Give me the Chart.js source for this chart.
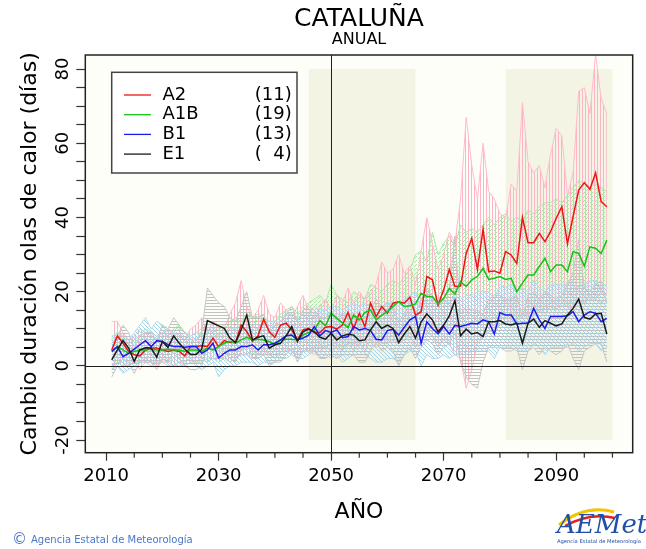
<!DOCTYPE html>
<html><head><meta charset="utf-8">
<script src="https://cdn.jsdelivr.net/npm/chart.js@4.4.0/dist/chart.umd.min.js"></script>
<style>html,body{margin:0;padding:0;background:#fff;}canvas{display:block;}</style>
</head><body>
<canvas id="c" width="646" height="549"></canvas>
<script>
// ---------------- DATA ----------------
const years = [2011,2012,2013,2014,2015,2016,2017,2018,2019,2020,
2021,2022,2023,2024,2025,2026,2027,2028,2029,2030,
2031,2032,2033,2034,2035,2036,2037,2038,2039,2040,
2041,2042,2043,2044,2045,2046,2047,2048,2049,2050,
2051,2052,2053,2054,2055,2056,2057,2058,2059,2060,
2061,2062,2063,2064,2065,2066,2067,2068,2069,2070,
2071,2072,2073,2074,2075,2076,2077,2078,2079,2080,
2081,2082,2083,2084,2085,2086,2087,2088,2089,2090,
2091,2092,2093,2094,2095,2096,2097,2098,2099];

const a2Mean = [4.3,8.1,6.1,3.9,3.0,2.7,4.3,4.8,4.8,4.3,
3.9,4.3,3.9,2.7,5.2,5.2,5.4,5.2,7.5,5.2,
6.8,6.3,6.3,11.0,9.2,6.6,8.1,12.6,9.2,7.7,
11.0,11.5,9.7,7.0,9.7,10.1,9.0,9.0,10.4,10.6,
9.9,11.0,14.4,10.1,14.2,10.6,16.9,13.3,16.0,14.2,
16.9,17.3,16.9,18.5,13.7,14.6,24.1,23.2,16.4,20.5,
26.0,21.4,21.5,30.3,34.4,26.0,36.8,25.4,25.6,25.0,
30.8,29.9,27.6,40.0,33.2,33.2,35.7,33.5,36.2,39.8,
42.9,32.9,40.2,47.4,49.4,47.6,52.0,44.3,42.9];

const a1bMean = [3.9,5.2,4.3,3.4,3.9,4.3,4.3,4.5,4.3,4.3,
4.5,4.3,4.3,3.9,4.3,4.3,3.9,4.8,4.3,5.2,
6.1,6.6,6.1,7.0,7.7,7.0,7.2,7.0,6.6,5.7,
7.0,7.2,7.2,7.0,8.3,9.0,9.7,12.2,10.8,14.2,
12.8,11.6,10.3,13.7,12.4,14.4,15.1,12.4,13.7,14.6,
16.0,17.3,16.0,16.2,16.7,19.6,18.7,18.7,16.7,18.2,
20.9,19.4,22.7,21.4,23.2,24.1,26.3,23.3,23.6,24.1,
23.3,23.6,20.0,22.3,24.5,24.5,26.8,29.0,25.4,27.2,
27.2,25.4,30.8,30.3,26.9,32.1,31.7,30.3,33.9];

const b1Mean = [3.9,5.2,2.5,3.4,4.5,5.7,6.8,5.2,6.8,6.6,
5.7,5.2,5.2,5.0,5.2,5.2,3.4,4.3,6.1,2.1,
3.4,4.3,4.3,5.2,5.2,5.7,4.3,5.7,5.7,6.1,
7.0,8.1,8.3,7.0,7.5,8.3,10.6,8.1,9.5,9.0,
9.7,7.6,7.9,10.6,9.7,10.1,9.5,7.2,7.0,9.5,
9.9,8.3,10.4,12.4,13.3,6.1,11.9,10.1,8.6,10.6,
8.6,10.9,10.6,11.0,11.5,11.3,12.4,11.9,8.6,14.4,
13.7,13.7,11.3,11.5,11.5,15.5,12.4,10.1,13.3,13.3,
13.3,13.5,14.6,11.9,13.7,14.6,14.2,11.9,12.8];

const e1Mean = [1.6,4.3,6.8,4.8,1.2,4.3,4.9,4.8,2.3,6.6,
5.0,8.1,6.1,4.5,3.1,3.1,4.5,12.2,11.5,10.8,
10.1,7.5,6.3,9.7,13.7,7.0,7.7,8.1,4.8,5.7,
6.1,8.1,10.6,6.6,9.2,9.9,9.2,7.7,7.2,8.8,
7.0,8.1,8.5,8.3,6.8,7.0,9.7,11.9,10.1,11.0,
10.1,6.3,8.6,10.6,7.5,11.9,14.0,12.4,9.2,11.0,
13.5,17.6,8.1,9.9,8.6,9.0,7.9,11.9,11.9,12.2,
11.3,11.0,11.5,6.1,11.5,12.6,10.4,12.2,11.5,10.8,
11.3,13.7,15.5,18.0,13.1,12.6,14.0,14.2,8.6];

// model spread (max / min) for each scenario
const a2Max = [12,12,9,7,8,10,9,8,7,9,
10,8,9,7,10,11,13,9,12,11,
10,14,17,23,16,13,15,19,14,13,
17,15,13,16,19,15,13,16,18,15,
19,17,21,17,20,18,20,22,28,25,
26,30,25,27,22,31,40,33,26,30,
36,33,45,67,54,45,60,47,45,41,
40,49,47,71,55,52,54,48,57,64,
62,46,52,74,75,68,84,72,68];
const a2Min = [-1,1,0,0,1,-1,1,1,0,1,
1,0,1,0,1,1,2,1,2,1,
2,1,2,3,3,2,3,4,3,2,
4,4,3,2,4,4,3,4,5,4,
5,4,6,4,6,4,7,5,6,6,
7,6,7,8,5,6,9,8,5,7,
6,3,2,-6,-1,6,8,9,10,11,
12,11,12,14,13,14,15,14,16,15,
17,16,15,18,17,19,18,20,19];

const a1bMax = [7,9,8,6,7,8,10,9,8,9,
8,10,11,9,8,9,10,10,9,10,
11,12,13,12,14,13,14,13,12,12,
14,15,16,14,16,17,18,19,17,22,
19,18,17,20,19,18,22,21,20,22,
23,22,24,26,30,31,28,36,30,33,
35,32,38,36,37,36,38,40,38,40,
41,39,40,39,42,41,43,44,44,45,
44,46,48,50,49,48,49,48,47];
const a1bMin = [0,1,1,0,1,1,2,1,1,2,
1,2,1,1,2,1,1,2,2,2,
2,3,3,3,3,4,3,3,3,2,
3,4,4,3,4,4,5,5,5,6,
6,5,6,6,7,7,7,6,7,8,
8,9,8,9,9,10,10,10,9,10,
11,11,12,11,12,12,13,12,13,13,
13,14,13,14,14,15,15,16,15,16,
16,17,17,16,17,18,18,17,18];

const b1Max = [8,9,8,7,9,11,13,10,12,11,
10,9,10,9,8,9,8,9,11,8,
9,10,10,11,10,11,10,12,12,12,
13,14,14,13,14,14,16,15,15,16,
16,15,16,17,16,17,16,15,15,17,
17,16,18,19,20,15,19,18,17,18,
17,19,18,19,19,20,20,20,18,22,
21,22,20,21,20,23,21,20,22,22,
22,22,23,21,22,23,23,21,22];
const b1Min = [-1,0,-2,-1,0,1,1,0,1,1,
0,0,0,0,1,0,-1,0,1,-3,
-1,0,0,1,1,1,0,1,1,1,
2,2,3,2,2,3,4,2,3,2,
3,1,2,3,3,3,2,1,1,2,
2,1,3,4,4,0,3,2,2,3,
2,3,3,3,4,4,4,4,2,5,
5,5,4,4,4,6,5,3,5,5,
5,5,6,4,5,6,6,4,5];

const e1Max = [6,8,11,9,5,8,9,9,7,11,
10,13,11,9,7,7,9,21,19,17,
16,13,12,16,20,13,13,14,10,11,
12,14,16,12,15,16,15,13,13,15,
13,14,14,14,12,13,15,18,16,17,
16,12,14,17,14,18,21,19,16,18,
21,35,14,16,15,15,14,18,19,19,
18,18,19,13,19,20,18,20,19,18,
19,22,25,34,21,20,22,23,17];
const e1Min = [-3,0,2,1,-2,1,1,1,-1,2,
1,4,2,0,-1,-1,0,5,4,4,
4,2,1,4,7,2,2,3,0,1,
1,3,5,1,4,4,4,2,2,3,
2,3,3,3,1,1,4,6,4,5,
4,0,3,5,2,5,7,6,3,5,
6,9,1,-3,-5,-6,1,5,5,5,
4,4,5,-1,4,5,3,5,4,3,
4,6,2,-1,4,5,6,6,1];

const scenarios = ['A2','A1B','B1','E1'];
const modelCounts = [11,19,13,4];
const xTicks = [2010,2015,2020,2025,2030,2035,2040,2045,2050,2055,2060,2065,2070,2075,2080,2085,2090,2095,2100];
const xLabelYears = [2010,2030,2050,2070,2090];
const yTicks = [-20,-15,-10,-5,0,5,10,15,20,25,30,35,40,45,50,55,60,65,70,75,80];
const yLabelValues = [-20,0,20,40,60,80];
const bandStart = [2046,2081];
const bandEnd = [2065,2100];
const bandLow = -20, bandHigh = 80;
const refYear = 2050;

// ---------------- STYLE ----------------
const FONT = 'DejaVu Sans';
const meanColors = ['#F01414','#14C414','#1C1CF0','#1A1A1A'];

function pat(w,h,color,pts){
  const c=document.createElement('canvas'); c.width=w; c.height=h;
  const g=c.getContext('2d'); g.fillStyle=color;
  pts.forEach(p=>g.fillRect(p[0],p[1],p[2]||1,p[3]||1));
  return g.createPattern(c,'repeat');
}
const pinkPat  = pat(3,3,'#FFB3C6',[[0,0,1,3]]);
const greenPat = pat(4,4,'#A4E4A4',[[0,0],[2,2],[3,1]]);
const bluePat  = pat(4,4,'#A6D3E8',[[0,0],[1,1],[2,2],[3,3]]);
const grayPat  = pat(3,3,'#C2C2C2',[[0,0,3,1]]);

const pts = arr => years.map((y,i)=>({x:y,y:arr[i]}));
function meanDs(label,arr,color){
  return {label,data:pts(arr),borderColor:color,borderWidth:1.5,pointRadius:0,fill:false,order:0,tension:0};
}
function envDs(mx,mn,line,pattern,order){
  return [
    {label:'max',data:pts(mx),borderColor:line,borderWidth:1,pointRadius:0,fill:'+1',backgroundColor:pattern,order,tension:0},
    {label:'min',data:pts(mn),borderColor:line,borderWidth:1,pointRadius:0,fill:false,order,tension:0}
  ];
}

const datasets = [
  meanDs('E1',e1Mean,meanColors[3]),
  meanDs('B1',b1Mean,meanColors[2]),
  meanDs('A1B',a1bMean,meanColors[1]),
  meanDs('A2',a2Mean,meanColors[0]),
  ...envDs(e1Max,e1Min,'#C8C8C8',grayPat,1),
  ...envDs(b1Max,b1Min,'#B4DCEC',bluePat,2),
  ...envDs(a2Max,a2Min,'#FFBCCB',pinkPat,3),
  ...envDs(a1bMax,a1bMin,'#AEE6AE',greenPat,4)
];

const decor = {
  id:'decor',
  beforeDraw(chart){
    const {ctx,chartArea:a}=chart;
    ctx.save();
    ctx.fillStyle='#FFFFFF'; ctx.fillRect(0,0,chart.width,chart.height);
    ctx.fillStyle='#FEFEF9'; ctx.fillRect(a.left,a.top,a.right-a.left,a.bottom-a.top);
    ctx.restore();
  },
  beforeDatasetsDraw(chart){
    const {ctx,scales:{x,y}}=chart;
    ctx.save();
    ctx.fillStyle='#F4F4E5';
    for(let i=0;i<bandStart.length;i++){
      const x0=x.getPixelForValue(bandStart[i]), x1=x.getPixelForValue(bandEnd[i]);
      const y0=y.getPixelForValue(bandHigh), y1=y.getPixelForValue(bandLow);
      ctx.fillRect(x0,y0,x1-x0,y1-y0);
    }
    ctx.restore();
  },
  afterDatasetsDraw(chart){
    const {ctx,chartArea:a,scales:{x,y}}=chart;
    ctx.save();
    ctx.strokeStyle='#202020'; ctx.lineWidth=1;
    const y0=Math.round(y.getPixelForValue(0))+0.5;
    ctx.beginPath(); ctx.moveTo(a.left,y0); ctx.lineTo(a.right,y0); ctx.stroke();
    const xr=Math.round(x.getPixelForValue(refYear))+0.5;
    ctx.beginPath(); ctx.moveTo(xr,a.top); ctx.lineTo(xr,a.bottom); ctx.stroke();
    ctx.strokeStyle='#222'; ctx.lineWidth=1.5;
    ctx.strokeRect(a.left,a.top,a.right-a.left,a.bottom-a.top);
    ctx.restore();
  },
  afterDraw(chart){
    const {ctx,chartArea:a,scales:{x,y}}=chart;
    ctx.save();
    // minor x ticks
    ctx.strokeStyle='#333'; ctx.lineWidth=1.2;
    xTicks.forEach(v=>{
      if(xLabelYears.includes(v)) return;
      const px=x.getPixelForValue(v);
      ctx.beginPath(); ctx.moveTo(px,a.bottom); ctx.lineTo(px,a.bottom+5); ctx.stroke();
    });
    // y tick labels (rotated)
    ctx.fillStyle='#000'; ctx.font='18px "'+FONT+'"';
    ctx.textAlign='center'; ctx.textBaseline='middle';
    yLabelValues.forEach(v=>{
      const py=y.getPixelForValue(v);
      ctx.save(); ctx.translate(63,py); ctx.rotate(-Math.PI/2);
      ctx.fillText(String(v),0,0); ctx.restore();
    });
    // legend
    const lx0=111.7, ly0=72.3, lx1=297, ly1=173;
    ctx.fillStyle='#FFFFFF'; ctx.fillRect(lx0,ly0,lx1-lx0,ly1-ly0);
    ctx.strokeStyle='#444'; ctx.lineWidth=1.5; ctx.strokeRect(lx0,ly0,lx1-lx0,ly1-ly0);
    ctx.font='18px "'+FONT+'"'; ctx.textBaseline='middle';
    const wFull = ctx.measureText('(11)').width;
    scenarios.forEach((s,i)=>{
      const ly=95+i*19.7;
      ctx.strokeStyle=meanColors[i]; ctx.lineWidth=1.3;
      ctx.beginPath(); ctx.moveTo(124,ly); ctx.lineTo(151,ly); ctx.stroke();
      ctx.fillStyle='#000'; ctx.textAlign='left';
      ctx.fillText(s,162.5,ly);
      ctx.textAlign='right';
      ctx.fillText(String(modelCounts[i])+')',291.7,ly);
      ctx.textAlign='left';
      ctx.fillText('(',291.7-wFull,ly);
    });
    // copyright
    ctx.fillStyle='#4A78C8'; ctx.textAlign='left'; ctx.textBaseline='middle';
    ctx.font='15px "'+FONT+'"'; ctx.fillText('©',12,540);
    ctx.font='10px "'+FONT+'"'; ctx.fillText('Agencia Estatal de Meteorología',31,540);
    // logo
    ctx.strokeStyle='#F2C500'; ctx.lineWidth=3;
    ctx.beginPath(); ctx.moveTo(559,525); ctx.quadraticCurveTo(585,504,614,512); ctx.stroke();
    ctx.strokeStyle='#E0201B'; ctx.lineWidth=2.5;
    ctx.beginPath(); ctx.moveTo(565,526); ctx.quadraticCurveTo(590,512,615,518); ctx.stroke();
    ctx.fillStyle='#1F4FA8'; ctx.font='italic 26px "DejaVu Serif"'; ctx.textBaseline='alphabetic';
    ctx.fillText('AEMet',557,533);
    ctx.font='5.2px "'+FONT+'"'; ctx.fillText('Agencia Estatal de Meteorología',557,543);
    ctx.restore();
  }
};

new Chart(document.getElementById('c'),{
  type:'line',
  data:{datasets},
  options:{
    responsive:false, animation:false, devicePixelRatio:1,
    layout:{padding:{left:0,right:13.3,top:0,bottom:0}},
    plugins:{
      legend:{display:false}, tooltip:{enabled:false},
      title:{display:true,text:'CATALUÑA',color:'#000',font:{family:FONT,size:25,weight:'normal',lineHeight:1.0},padding:{top:7,bottom:0},fullSize:false},
      subtitle:{display:true,text:'ANUAL',color:'#000',font:{family:FONT,size:16,weight:'normal',lineHeight:1.0},padding:{top:0,bottom:7},fullSize:false}
    },
    scales:{
      x:{type:'linear',min:2006.3,max:2103.6,
        afterBuildTicks:s=>{s.ticks=xTicks.map(v=>({value:v}));},
        afterFit:s=>{s.height=96.3;},
        ticks:{autoSkip:false,maxRotation:0,minRotation:0,padding:5,color:'#000',font:{family:FONT,size:18},
          callback:v=>xLabelYears.includes(v)?String(v):''},
        grid:{drawOnChartArea:false,drawTicks:true,tickLength:8,tickWidth:1.2,
          tickColor:c=>(c.tick&&xLabelYears.includes(c.tick.value))?'#333':'rgba(0,0,0,0)'},
        border:{display:false},
        title:{display:true,text:'AÑO',color:'#000',font:{family:FONT,size:22},padding:{top:0,bottom:24}}
      },
      y:{type:'linear',min:-23.4,max:83.8,
        afterBuildTicks:s=>{s.ticks=yTicks.map(v=>({value:v}));},
        afterFit:s=>{s.width=85.3;},
        ticks:{display:false},
        grid:{drawOnChartArea:false,drawTicks:true,tickLength:9,tickWidth:1.2,tickColor:'#333'},
        border:{display:false},
        title:{display:true,text:'Cambio duración olas de calor (días)',color:'#000',font:{family:FONT,size:22},padding:{top:17,bottom:0}}
      }
    }
  },
  plugins:[decor]
});
</script>
</body></html>
